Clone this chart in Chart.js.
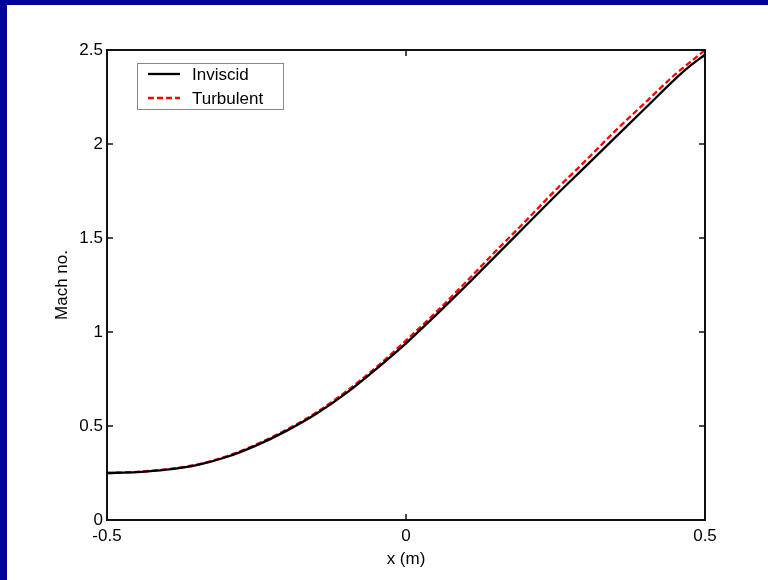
<!DOCTYPE html>
<html>
<head>
<meta charset="utf-8">
<title>Mach no.</title>
<script src="https://cdn.jsdelivr.net/npm/chart.js@4.4.1/dist/chart.umd.min.js"></script>
<style>
  html, body { margin: 0; padding: 0; }
  body {
    width: 768px;
    height: 580px;
    background: #00009c;
    overflow: hidden;
  }
  .panel {
    position: absolute;
    left: 7px;
    top: 5px;
    width: 761px;
    height: 575px;
    background: #ffffff;
  }
</style>
</head>
<body>
<div class="panel">
  <canvas id="machChart" width="761" height="575"></canvas>
</div>
<script>
// Data
const xPos = [-0.5, -0.45, -0.4, -0.35, -0.3, -0.25, -0.2, -0.15, -0.1, -0.05, 0,
              0.05, 0.1, 0.15, 0.2, 0.25, 0.3, 0.35, 0.4, 0.45, 0.475, 0.5];
const inviscid = [0.25, 0.255, 0.268, 0.292, 0.335, 0.397, 0.474, 0.565, 0.675, 0.803, 0.94,
                  1.09, 1.245, 1.405, 1.565, 1.725, 1.88, 2.035, 2.19, 2.345, 2.415, 2.475];
const turbulent = [0.25, 0.256, 0.27, 0.295, 0.339, 0.402, 0.48, 0.572, 0.684, 0.812, 0.955,
                   1.105, 1.265, 1.43, 1.59, 1.755, 1.91, 2.07, 2.22, 2.37, 2.435, 2.5];
const xTicks = [-0.5, 0, 0.5];
const yTicks = [0, 0.5, 1, 1.5, 2, 2.5];

const FONT = "'Liberation Sans', Arial, sans-serif";

function toPoints(ys) {
  return xPos.map(function (x, i) { return { x: x, y: ys[i] }; });
}

// box, inward tick marks and legend like the matlab figure
const matlabFrame = {
  id: 'matlabFrame',
  afterDatasetsDraw: function (chart) {
    const ctx = chart.ctx;
    const a = chart.chartArea;
    const xs = chart.scales.x;
    const ys = chart.scales.y;
    ctx.save();
    ctx.strokeStyle = '#111';
    ctx.lineWidth = 1.5;
    ctx.beginPath();
    xTicks.forEach(function (v) {
      const px = xs.getPixelForValue(v);
      ctx.moveTo(px, a.bottom); ctx.lineTo(px, a.bottom - 6);
      ctx.moveTo(px, a.top); ctx.lineTo(px, a.top + 6);
    });
    yTicks.forEach(function (v) {
      const py = ys.getPixelForValue(v);
      ctx.moveTo(a.left, py); ctx.lineTo(a.left + 6, py);
      ctx.moveTo(a.right, py); ctx.lineTo(a.right - 6, py);
    });
    ctx.stroke();
    ctx.lineWidth = 2;
    ctx.strokeRect(a.left, a.top, a.right - a.left, a.bottom - a.top);

    // legend
    const lx = a.left + 30, ly = a.top + 13;
    ctx.fillStyle = '#fff';
    ctx.fillRect(lx, ly, 146, 46);
    ctx.strokeStyle = '#888';
    ctx.lineWidth = 1;
    ctx.strokeRect(lx + 0.5, ly + 0.5, 146, 46);
    chart.data.datasets.forEach(function (ds, i) {
      const yy = ly + 11 + i * 24;
      ctx.strokeStyle = ds.borderColor;
      ctx.lineWidth = ds.borderWidth;
      ctx.setLineDash(ds.borderDash || []);
      ctx.beginPath();
      ctx.moveTo(lx + 11, yy);
      ctx.lineTo(lx + 43, yy);
      ctx.stroke();
      ctx.setLineDash([]);
      ctx.fillStyle = '#000';
      ctx.font = '17px ' + FONT;
      ctx.textBaseline = 'middle';
      ctx.fillText(ds.label, lx + 55, yy + 1);
    });
    ctx.restore();
  }
};

document.addEventListener("DOMContentLoaded", function () {
  const ctxMach = document.getElementById('machChart');

  new Chart(ctxMach, {
    type: 'line',
    data: {
      datasets: [
        {
          label: 'Inviscid',
          data: toPoints(inviscid),
          borderColor: '#000000',
          borderWidth: 2.3,
          pointRadius: 0,
          cubicInterpolationMode: 'monotone'
        },
        {
          label: 'Turbulent',
          data: toPoints(turbulent),
          borderColor: '#ff0000',
          borderWidth: 2.3,
          borderDash: [6, 3],
          pointRadius: 0,
          cubicInterpolationMode: 'monotone'
        }
      ]
    },
    options: {
      responsive: false,
      animation: false,
      layout: { padding: { left: 0, top: 45, right: 63, bottom: 0 } },
      plugins: {
        legend: { display: false },
        tooltip: { enabled: false }
      },
      scales: {
        x: {
          type: 'linear',
          min: -0.5,
          max: 0.5,
          afterBuildTicks: function (scale) {
            scale.ticks = xTicks.map(function (v) { return { value: v }; });
          },
          afterFit: function (scale) { scale.height = 60; },
          grid: { display: false, drawTicks: false },
          border: { display: false },
          ticks: {
            padding: 6,
            color: '#000',
            font: { family: FONT, size: 17 },
            callback: function (v) { return String(v); }
          },
          title: {
            display: true,
            text: 'x (m)',
            color: '#000',
            font: { family: FONT, size: 17 },
            padding: { top: 0, bottom: 10 }
          }
        },
        y: {
          min: 0,
          max: 2.5,
          afterBuildTicks: function (scale) {
            scale.ticks = yTicks.map(function (v) { return { value: v }; });
          },
          afterFit: function (scale) { scale.width = 100; },
          grid: { display: false, drawTicks: false },
          border: { display: false },
          ticks: {
            padding: 4,
            color: '#000',
            font: { family: FONT, size: 17 },
            callback: function (v) { return String(v); }
          },
          title: {
            display: true,
            text: 'Mach no.',
            color: '#000',
            font: { family: FONT, size: 17 },
            padding: { top: 45, bottom: 0 }
          }
        }
      }
    },
    plugins: [matlabFrame]
  });
});
</script>
</body>
</html>
